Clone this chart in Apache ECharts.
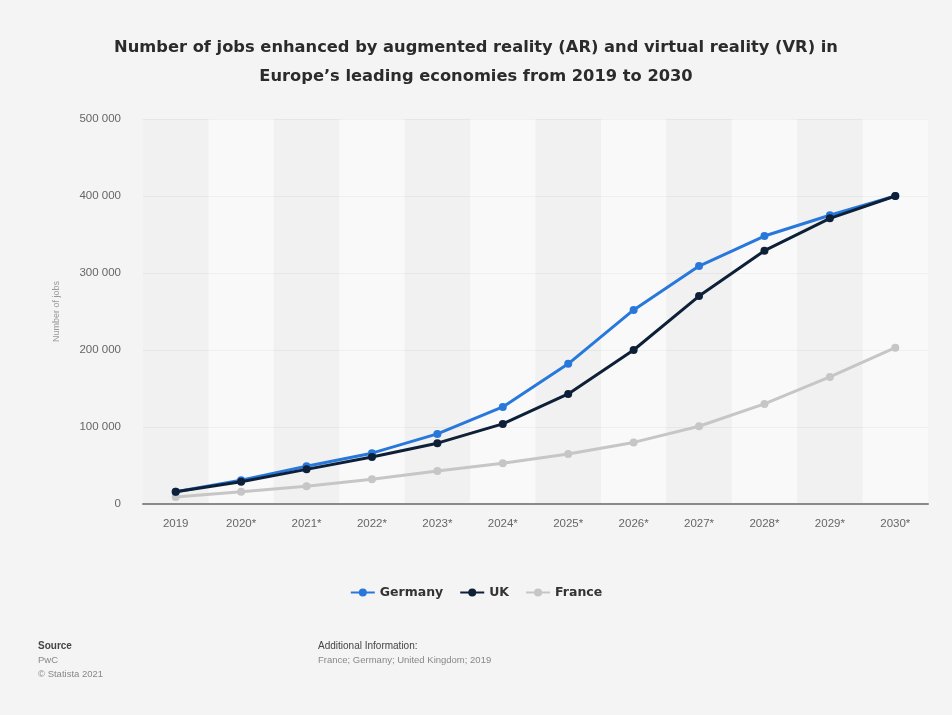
<!DOCTYPE html>
<html>
<head>
<meta charset="utf-8">
<script src="https://cdn.jsdelivr.net/npm/echarts@6/dist/echarts.min.js"></script>
<style>
  html, body { margin: 0; padding: 0; background: #f4f4f4; }
  #chart { width: 952px; height: 715px; }
</style>
</head>
<body>
<div id="chart"></div>
<script>
// Years on the category axis (* = forecast)
const years = ['2019', '2020*', '2021*', '2022*', '2023*', '2024*', '2025*', '2026*', '2027*', '2028*', '2029*', '2030*'];

// Jobs enhanced by AR and VR, per country
const germany = [16000, 31000, 49000, 66000, 91000, 126000, 182000, 252000, 309000, 348000, 375000, 400000];
const uk      = [16000, 29000, 45000, 61000, 79000, 104000, 143000, 200000, 270000, 329000, 371000, 400000];
const france  = [9000, 16000, 23000, 32000, 43000, 53000, 65000, 80000, 101000, 130000, 165000, 203000];

// Value-axis ticks
const yTicks = [0, 100000, 200000, 300000, 400000, 500000];

const FONT = '"Liberation Sans", Arial, sans-serif';
const BOLD_FONT = '"DejaVu Sans", "Liberation Sans", sans-serif';
const fmt = v => v === 0 ? '0' : String(v).replace(/\B(?=(\d{3})+(?!\d))/g, ' ');

const chart = echarts.init(document.getElementById('chart'), null, { renderer: 'canvas' });

function lineSeries(name, data, color, z) {
  return {
    name: name,
    type: 'line',
    data: data,
    symbol: 'circle',
    symbolSize: 8,
    lineStyle: { width: 3, color: color },
    itemStyle: { color: color },
    z: z
  };
}

chart.setOption({
  backgroundColor: '#f4f4f4',
  animation: false,
  title: {
    text: 'Number of jobs enhanced by augmented reality (AR) and virtual reality (VR) in\nEurope\u2019s leading economies from 2019 to 2030',
    left: 'center',
    top: 28,
    textStyle: { fontFamily: BOLD_FONT, fontSize: 16.3, fontWeight: 'bold', color: '#2b2b2b', lineHeight: 29 }
  },
  legend: {
    data: ['Germany', 'UK', 'France'],
    top: 581,
    left: 'center',
    itemWidth: 24,
    itemHeight: 10,
    itemGap: 16,
    textStyle: { fontFamily: BOLD_FONT, fontSize: 12.5, fontWeight: 'bold', color: '#333' }
  },
  grid: { left: 143, right: 24, top: 119, bottom: 211 },
  xAxis: {
    type: 'category',
    data: years,
    boundaryGap: true,
    axisLine: { lineStyle: { color: '#8a8a8a', width: 2 } },
    axisTick: { show: false },
    axisLabel: { color: '#666', fontSize: 11.5, margin: 14, fontFamily: FONT },
    splitArea: { show: true, areaStyle: { color: ['rgba(236,236,236,0.3)', 'rgba(255,255,255,0.45)'] } }
  },
  yAxis: {
    type: 'value',
    min: yTicks[0],
    max: yTicks[yTicks.length - 1],
    interval: yTicks[1] - yTicks[0],
    name: 'Number of jobs',
    nameLocation: 'middle',
    nameGap: 82,
    nameTextStyle: { color: '#999', fontSize: 9, fontFamily: FONT },
    axisLine: { show: false },
    axisTick: { show: false },
    axisLabel: { color: '#666', fontSize: 11.5, margin: 22, formatter: fmt, fontFamily: FONT },
    splitLine: { lineStyle: { color: '#e4e4e4', width: 1 } }
  },
  series: [
    lineSeries('Germany', germany, '#2878dc', 3),
    lineSeries('UK', uk, '#0e2038', 4),
    lineSeries('France', france, '#c6c6c6', 2)
  ],
  graphic: [
    { type: 'text', left: 38, top: 641, style: { text: 'Source', font: 'bold 10px ' + FONT, fill: '#444' } },
    { type: 'text', left: 38, top: 655, style: { text: 'PwC', font: '9.5px ' + FONT, fill: '#888' } },
    { type: 'text', left: 38, top: 669, style: { text: '\u00a9 Statista 2021', font: '9.5px ' + FONT, fill: '#888' } },
    { type: 'text', left: 318, top: 641, style: { text: 'Additional Information:', font: '10px ' + FONT, fill: '#444' } },
    { type: 'text', left: 318, top: 655, style: { text: 'France; Germany; United Kingdom; 2019', font: '9.5px ' + FONT, fill: '#888' } }
  ]
});
</script>
</body>
</html>
